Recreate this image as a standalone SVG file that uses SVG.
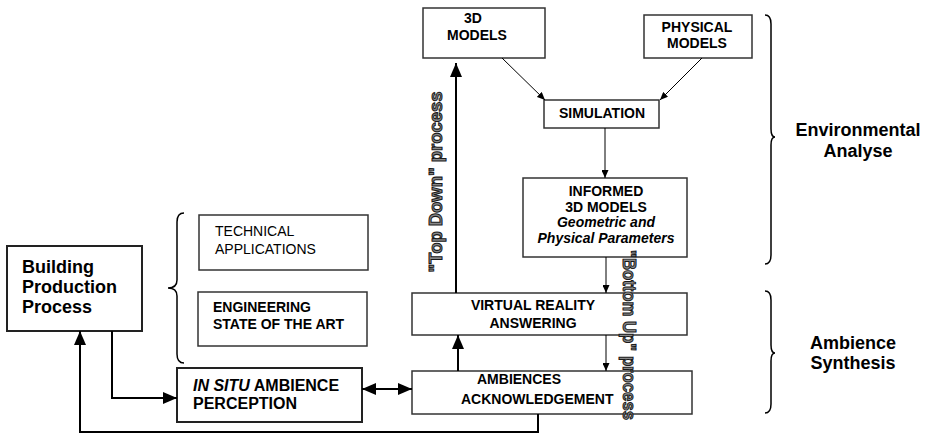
<svg xmlns="http://www.w3.org/2000/svg" width="925" height="434" viewBox="0 0 925 434">
<style>
.box{fill:#fff;stroke:#333;stroke-width:1.5}
.boxb{fill:#fff;stroke:#222;stroke-width:2}
text{font-family:"Liberation Sans",Arial,sans-serif;fill:#000}
.b{font-weight:bold}
.t14{font-size:14px}
.t16{font-size:16px}
.t18{font-size:18px}
.thick{fill:none;stroke:#000;stroke-width:2}
.thin{fill:none;stroke:#000;stroke-width:1}
.brace{fill:none;stroke:#000;stroke-width:1.5}
.proc{font-family:"Liberation Sans",Arial,sans-serif;font-weight:bold;font-size:18px;fill:#888;stroke:#1a1a1a;stroke-width:1}
</style>
<defs>
<marker id="ab" markerWidth="14" markerHeight="12" refX="14" refY="6" orient="auto-start-reverse" markerUnits="userSpaceOnUse"><path d="M0,0 L14,6 L0,12 z" fill="#000"/></marker>
<marker id="as" markerWidth="8" markerHeight="7" refX="8" refY="3.5" orient="auto" markerUnits="userSpaceOnUse"><path d="M0,0 L8,3.5 L0,7 z" fill="#000"/></marker>
</defs>

<g id="braces">
<path class="brace" d="M184,213 Q177,213 177,222 V280 Q177,288 168,288 Q177,288 177,296 V354 Q177,363 184,363"/>
<path class="brace" d="M765,15 Q771,15 771,24 V129 Q771,137 775,137 Q771,137 771,145 V255 Q771,264 765,264"/>
<path class="brace" d="M765,291 Q771,291 771,300 V345 Q771,353 775,353 Q771,353 771,361 V404 Q771,413 765,413"/>
</g>

<g id="building">
<rect class="boxb" x="7" y="246" width="135" height="85"/>
<text class="b t18" x="22" y="273">Building</text>
<text class="b t18" x="22" y="293">Production</text>
<text class="b t18" x="22" y="313">Process</text>
</g>

<g id="technical">
<rect class="box" x="199" y="215" width="169" height="55"/>
<text class="t14" x="215" y="236">TECHNICAL</text>
<text class="t14" x="215" y="254">APPLICATIONS</text>
</g>

<g id="engineering">
<rect class="box" x="198" y="292" width="169" height="54"/>
<text class="b t14" x="213" y="312">ENGINEERING</text>
<text class="b t14" x="213" y="329">STATE OF THE ART</text>
</g>

<g id="insitu">
<rect class="boxb" x="177" y="368" width="185" height="54"/>
<text class="b t16" x="193" y="391"><tspan font-style="italic">IN SITU</tspan> AMBIENCE</text>
<text class="b t16" x="193" y="409">PERCEPTION</text>
</g>

<g id="models3d">
<rect class="box" x="423" y="8" width="122" height="50"/>
<text class="b t14" x="464" y="23">3D</text>
<text class="b t14" x="447" y="40">MODELS</text>
</g>

<g id="physical">
<rect class="box" x="644" y="15" width="108" height="43"/>
<text class="b t14" x="697" y="32" text-anchor="middle">PHYSICAL</text>
<text class="b t14" x="697" y="48" text-anchor="middle">MODELS</text>
</g>

<g id="simulation">
<rect class="box" x="544" y="100" width="115" height="28"/>
<text class="b t14" x="602" y="118" text-anchor="middle">SIMULATION</text>
</g>

<g id="informed">
<rect class="box" x="523" y="178" width="164" height="79"/>
<text class="b t14" x="606" y="196" text-anchor="middle">INFORMED</text>
<text class="b t14" x="606" y="212" text-anchor="middle">3D MODELS</text>
<text class="b t14" x="606" y="227" text-anchor="middle" font-style="italic">Geometric and</text>
<text class="b t14" x="606" y="243" text-anchor="middle" font-style="italic">Physical Parameters</text>
</g>

<g id="virtual">
<rect class="box" x="412" y="293" width="275" height="42"/>
<text class="b t14" x="533" y="310" text-anchor="middle">VIRTUAL REALITY</text>
<text class="b t14" x="533" y="328" text-anchor="middle">ANSWERING</text>
</g>

<g id="ambiences">
<rect class="box" x="412" y="371" width="280" height="43"/>
<text class="b t14" x="477" y="384">AMBIENCES</text>
<text class="b t14" x="461" y="404">ACKNOWLEDGEMENT</text>
</g>

<g id="connectors">
<line class="thin" x1="502" y1="58" x2="545" y2="100" marker-end="url(#as)"/>
<line class="thin" x1="702" y1="58" x2="660" y2="100" marker-end="url(#as)"/>
<line class="thin" x1="605" y1="128" x2="605" y2="178" marker-end="url(#as)"/>
<line class="thin" x1="606" y1="257" x2="606" y2="293" marker-end="url(#as)"/>
<line class="thin" x1="606" y1="335" x2="606" y2="371" marker-end="url(#as)"/>
<line class="thick" x1="456" y1="293" x2="456" y2="63" marker-end="url(#ab)"/>
<line class="thick" x1="458" y1="371" x2="458" y2="335" marker-end="url(#ab)"/>
<path class="thick" d="M112,331 V398 H177" marker-end="url(#ab)"/>
<line class="thick" x1="362" y1="389" x2="412" y2="389" marker-start="url(#ab)" marker-end="url(#ab)"/>
<path class="thick" d="M538,414 V432 H80 V331" marker-end="url(#ab)"/>
</g>

<g id="labels">
<text class="b t18" x="858" y="136" text-anchor="middle">Environmental</text>
<text class="b t18" x="858" y="157" text-anchor="middle">Analyse</text>
<text class="b t18" x="853" y="349" text-anchor="middle">Ambience</text>
<text class="b t18" x="853" y="369" text-anchor="middle">Synthesis</text>
<text class="proc" transform="translate(442,182) rotate(-90)" text-anchor="middle" textLength="181" lengthAdjust="spacingAndGlyphs">"Top Down" process</text>
<text class="proc" transform="translate(623,335) rotate(90)" text-anchor="middle" textLength="170" lengthAdjust="spacingAndGlyphs">"Bottom Up" process</text>
</g>
</svg>
